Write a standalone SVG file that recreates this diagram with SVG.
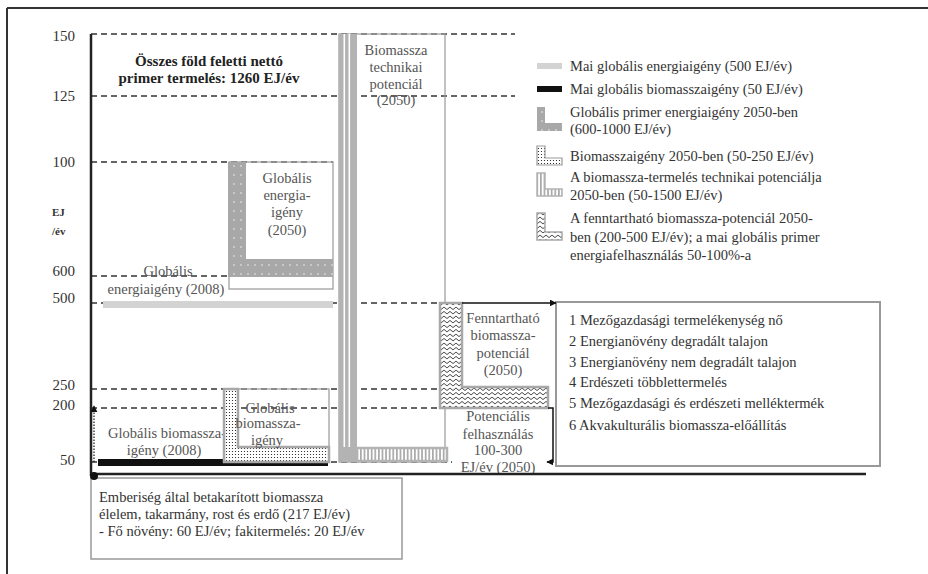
<svg xmlns="http://www.w3.org/2000/svg" width="928" height="574" viewBox="0 0 928 574">
<style>
text{font-family:"Liberation Serif","Times New Roman",serif;}
.tick{font-size:15px;fill:#333;text-anchor:end;}
.lbl{font-size:14.5px;fill:#555;text-anchor:middle;}
.leg{font-size:14.5px;fill:#333;}
.box{font-size:14.5px;fill:#333;}
.dash{stroke:#333;stroke-width:1.5;stroke-dasharray:6 4;fill:none;}
.thin{fill:none;stroke:#a0a0a0;stroke-width:1.3;}
.axis{stroke:#222;stroke-width:2.5;fill:none;}
</style>
<defs>
<pattern id="pGrayDots" width="7" height="9" patternUnits="userSpaceOnUse"><rect width="7" height="9" fill="#a8a8a8"/><circle cx="3" cy="4" r="0.7" fill="#fff"/></pattern>
<pattern id="pWhiteDots" width="3" height="3" patternUnits="userSpaceOnUse"><rect width="3" height="3" fill="#fff"/><circle cx="1.5" cy="1.5" r="0.6" fill="#111"/></pattern>
<pattern id="pVStripes" width="3.6" height="4" patternUnits="userSpaceOnUse"><rect width="3.6" height="4" fill="#fff"/><rect x="0" width="1.7" height="4" fill="#a8a8a8"/></pattern>
<pattern id="pZig" width="6" height="4.5" patternUnits="userSpaceOnUse"><rect width="6" height="4.5" fill="#fff"/><path d="M0,1 L3,3.5 L6,1" stroke="#222" stroke-width="0.9" fill="none"/></pattern>
<marker id="arr" viewBox="0 0 10 10" refX="9" refY="5" markerWidth="7" markerHeight="7" orient="auto" markerUnits="userSpaceOnUse"><path d="M0,0 L10,5 L0,10 Z" fill="#111"/></marker>
</defs>

<g id="frame">
<line x1="7" y1="8" x2="928" y2="8" stroke="#333" stroke-width="2"/>
<line x1="7" y1="8" x2="7" y2="574" stroke="#333" stroke-width="2"/>
</g>

<g id="gridlines">
<line class="dash" x1="91" y1="34" x2="515" y2="34"/>
<line class="dash" x1="91" y1="96" x2="515" y2="96"/>
<line class="dash" x1="91" y1="162" x2="333" y2="162"/>
<line class="dash" x1="91" y1="276" x2="228" y2="276"/>
<line class="dash" x1="91" y1="303" x2="440" y2="303"/>
<line class="dash" x1="91" y1="389" x2="440" y2="389"/>
<line class="dash" x1="91" y1="408" x2="440" y2="408"/>
<line class="dash" x1="91" y1="462" x2="452" y2="462"/>
</g>

<g id="axis-labels">
<text class="tick" x="75" y="41">150</text>
<text class="tick" x="75" y="101">125</text>
<text class="tick" x="75" y="167">100</text>
<text x="52" y="216" font-size="11" font-weight="bold" fill="#333">EJ</text>
<text x="52" y="235" font-size="11" font-weight="bold" fill="#333">/év</text>
<text class="tick" x="75" y="276">600</text>
<text class="tick" x="75" y="303">500</text>
<text class="tick" x="75" y="390">250</text>
<text class="tick" x="75" y="410">200</text>
<text class="tick" x="75" y="465">50</text>
</g>

<g id="title-npp">
<text x="209" y="66" font-size="15" font-weight="bold" fill="#222" text-anchor="middle">Összes föld feletti nettó</text>
<text x="209" y="83" font-size="15" font-weight="bold" fill="#222" text-anchor="middle">primer termelés: 1260 EJ/év</text>
</g>

<g id="energy-demand-2008">
<rect x="103" y="301" width="230" height="7" fill="#d3d3d3"/>
<text class="lbl" x="168" y="276">Globális</text>
<text class="lbl" x="166" y="294">energiaigény (2008)</text>
</g>

<g id="energy-demand-2050">
<rect class="thin" x="229" y="162" width="104" height="127"/>
<path d="M228,162 H246 V259 H333 V277 H228 Z" fill="url(#pGrayDots)"/>
<text class="lbl" x="287" y="183">Globális</text>
<text class="lbl" x="287" y="200">energia-</text>
<text class="lbl" x="287" y="217">igény</text>
<text class="lbl" x="287" y="235">(2050)</text>
</g>

<g id="biomass-demand-2008">
<rect x="98" y="459" width="230" height="7" fill="#111"/>
<text class="lbl" x="167" y="438">Globális biomassza-</text>
<text class="lbl" x="164" y="455">igény (2008)</text>
</g>

<g id="biomass-demand-2050">
<rect class="thin" x="224" y="389" width="105" height="73"/>
<path d="M224,389 H238 V447 H329 V462 H224 Z" fill="url(#pWhiteDots)" stroke="#a8a8a8" stroke-width="2.5"/>
<text class="lbl" x="270" y="413" font-size="13.5">Globális</text>
<text class="lbl" x="268" y="428" font-size="13.5">biomassza-</text>
<text class="lbl" x="267" y="445" font-size="13.5">igény</text>
</g>

<g id="technical-potential">
<rect class="thin" x="339" y="34" width="106" height="428"/>
<rect x="339" y="34" width="18" height="428" fill="#b3b3b3"/>
<rect x="343.5" y="34" width="1.6" height="413" fill="#fff"/>
<rect x="348.5" y="34" width="1.6" height="413" fill="#fff"/>
<rect x="357" y="448" width="90" height="13" fill="url(#pVStripes)" stroke="#b3b3b3" stroke-width="2.5"/>
<text class="lbl" x="396" y="55" font-size="15">Biomassza</text>
<text class="lbl" x="396" y="72" font-size="15">technikai</text>
<text class="lbl" x="396" y="89" font-size="15">potenciál</text>
<text class="lbl" x="396" y="105" font-size="15">(2050)</text>
</g>

<g id="sustainable-potential">
<path d="M440,303 H462 V387 H548 V408 H440 Z" fill="url(#pZig)" stroke="#a8a8a8" stroke-width="2.5"/>
<text class="lbl" x="503" y="323">Fenntartható</text>
<text class="lbl" x="503" y="340">biomassza-</text>
<text class="lbl" x="503" y="358">potenciál</text>
<text class="lbl" x="503" y="375">(2050)</text>
</g>

<g id="potential-use">
<text class="lbl" x="498" y="421">Potenciális</text>
<text class="lbl" x="498" y="439">felhasználás</text>
<text class="lbl" x="498" y="455">100-300</text>
<text class="lbl" x="498" y="472">EJ/év (2050)</text>
</g>

<g id="sources-box">
<rect x="556" y="302" width="324" height="164" fill="#fff" stroke="#999" stroke-width="2"/>
<text class="box" x="569" y="325">1 Mezőgazdasági termelékenység nő</text>
<text class="box" x="569" y="346">2 Energianövény degradált talajon</text>
<text class="box" x="569" y="367">3 Energianövény nem degradált talajon</text>
<text class="box" x="569" y="387">4 Erdészeti többlettermelés</text>
<text class="box" x="569" y="408">5 Mezőgazdasági és erdészeti melléktermék</text>
<text class="box" x="569" y="430">6 Akvakulturális biomassza-előállítás</text>
</g>

<g id="harvest-box">
<rect x="91" y="478" width="311" height="81" fill="#fff" stroke="#999" stroke-width="1.5"/>
<text class="box" x="99" y="502" font-size="15">Emberiség által betakarított biomassza</text>
<text class="box" x="99" y="519" font-size="15">élelem, takarmány, rost és erdő (217 EJ/év)</text>
<text class="box" x="99" y="536" font-size="15">- Fő növény: 60 EJ/év; fakitermelés: 20 EJ/év</text>
</g>

<g id="axes">
<line class="axis" x1="91" y1="34" x2="91" y2="476"/>
<line class="axis" x1="91" y1="474" x2="866" y2="474"/>
<circle cx="94" cy="476" r="4" fill="#111"/>
</g>

<g id="connectors">
<line x1="94" y1="462" x2="94" y2="406" stroke="#111" stroke-width="1.2" stroke-dasharray="1.5 1.5" marker-end="url(#arr)"/>
<line x1="462" y1="303" x2="556" y2="303" stroke="#111" stroke-width="1.5" marker-end="url(#arr)"/>
<path d="M548,408 H553 V462 H547" fill="none" stroke="#111" stroke-width="1.5" marker-end="url(#arr)"/>
</g>

<g id="legend">
<rect x="537" y="63" width="25" height="6" fill="#d3d3d3"/>
<text class="leg" x="570" y="71">Mai globális energiaigény (500 EJ/év)</text>
<rect x="537" y="86" width="25" height="6" fill="#111"/>
<text class="leg" x="570" y="94">Mai globális biomasszaigény (50 EJ/év)</text>
<path d="M537,107 H545 V123 H562 V131 H537 Z" fill="url(#pGrayDots)"/>
<text class="leg" x="570" y="117">Globális primer energiaigény 2050-ben</text>
<text class="leg" x="570" y="134">(600-1000 EJ/év)</text>
<path d="M537,146 H545 V158 H562 V165 H537 Z" fill="url(#pWhiteDots)" stroke="#999" stroke-width="1.2"/>
<text class="leg" x="570" y="161">Biomasszaigény 2050-ben (50-250 EJ/év)</text>
<path d="M537,173 H545 V189 H562 V196 H537 Z" fill="url(#pVStripes)" stroke="#b3b3b3" stroke-width="1.5"/>
<text class="leg" x="570" y="182">A biomassza-termelés technikai potenciálja</text>
<text class="leg" x="570" y="200">2050-ben (50-1500 EJ/év)</text>
<path d="M537,213 H545 V232 H562 V240 H537 Z" fill="url(#pZig)" stroke="#a8a8a8" stroke-width="1.5"/>
<text class="leg" x="570" y="223">A fenntartható biomassza-potenciál 2050-</text>
<text class="leg" x="570" y="242">ben (200-500 EJ/év); a mai globális primer</text>
<text class="leg" x="570" y="260">energiafelhasználás 50-100%-a</text>
</g>
</svg>
